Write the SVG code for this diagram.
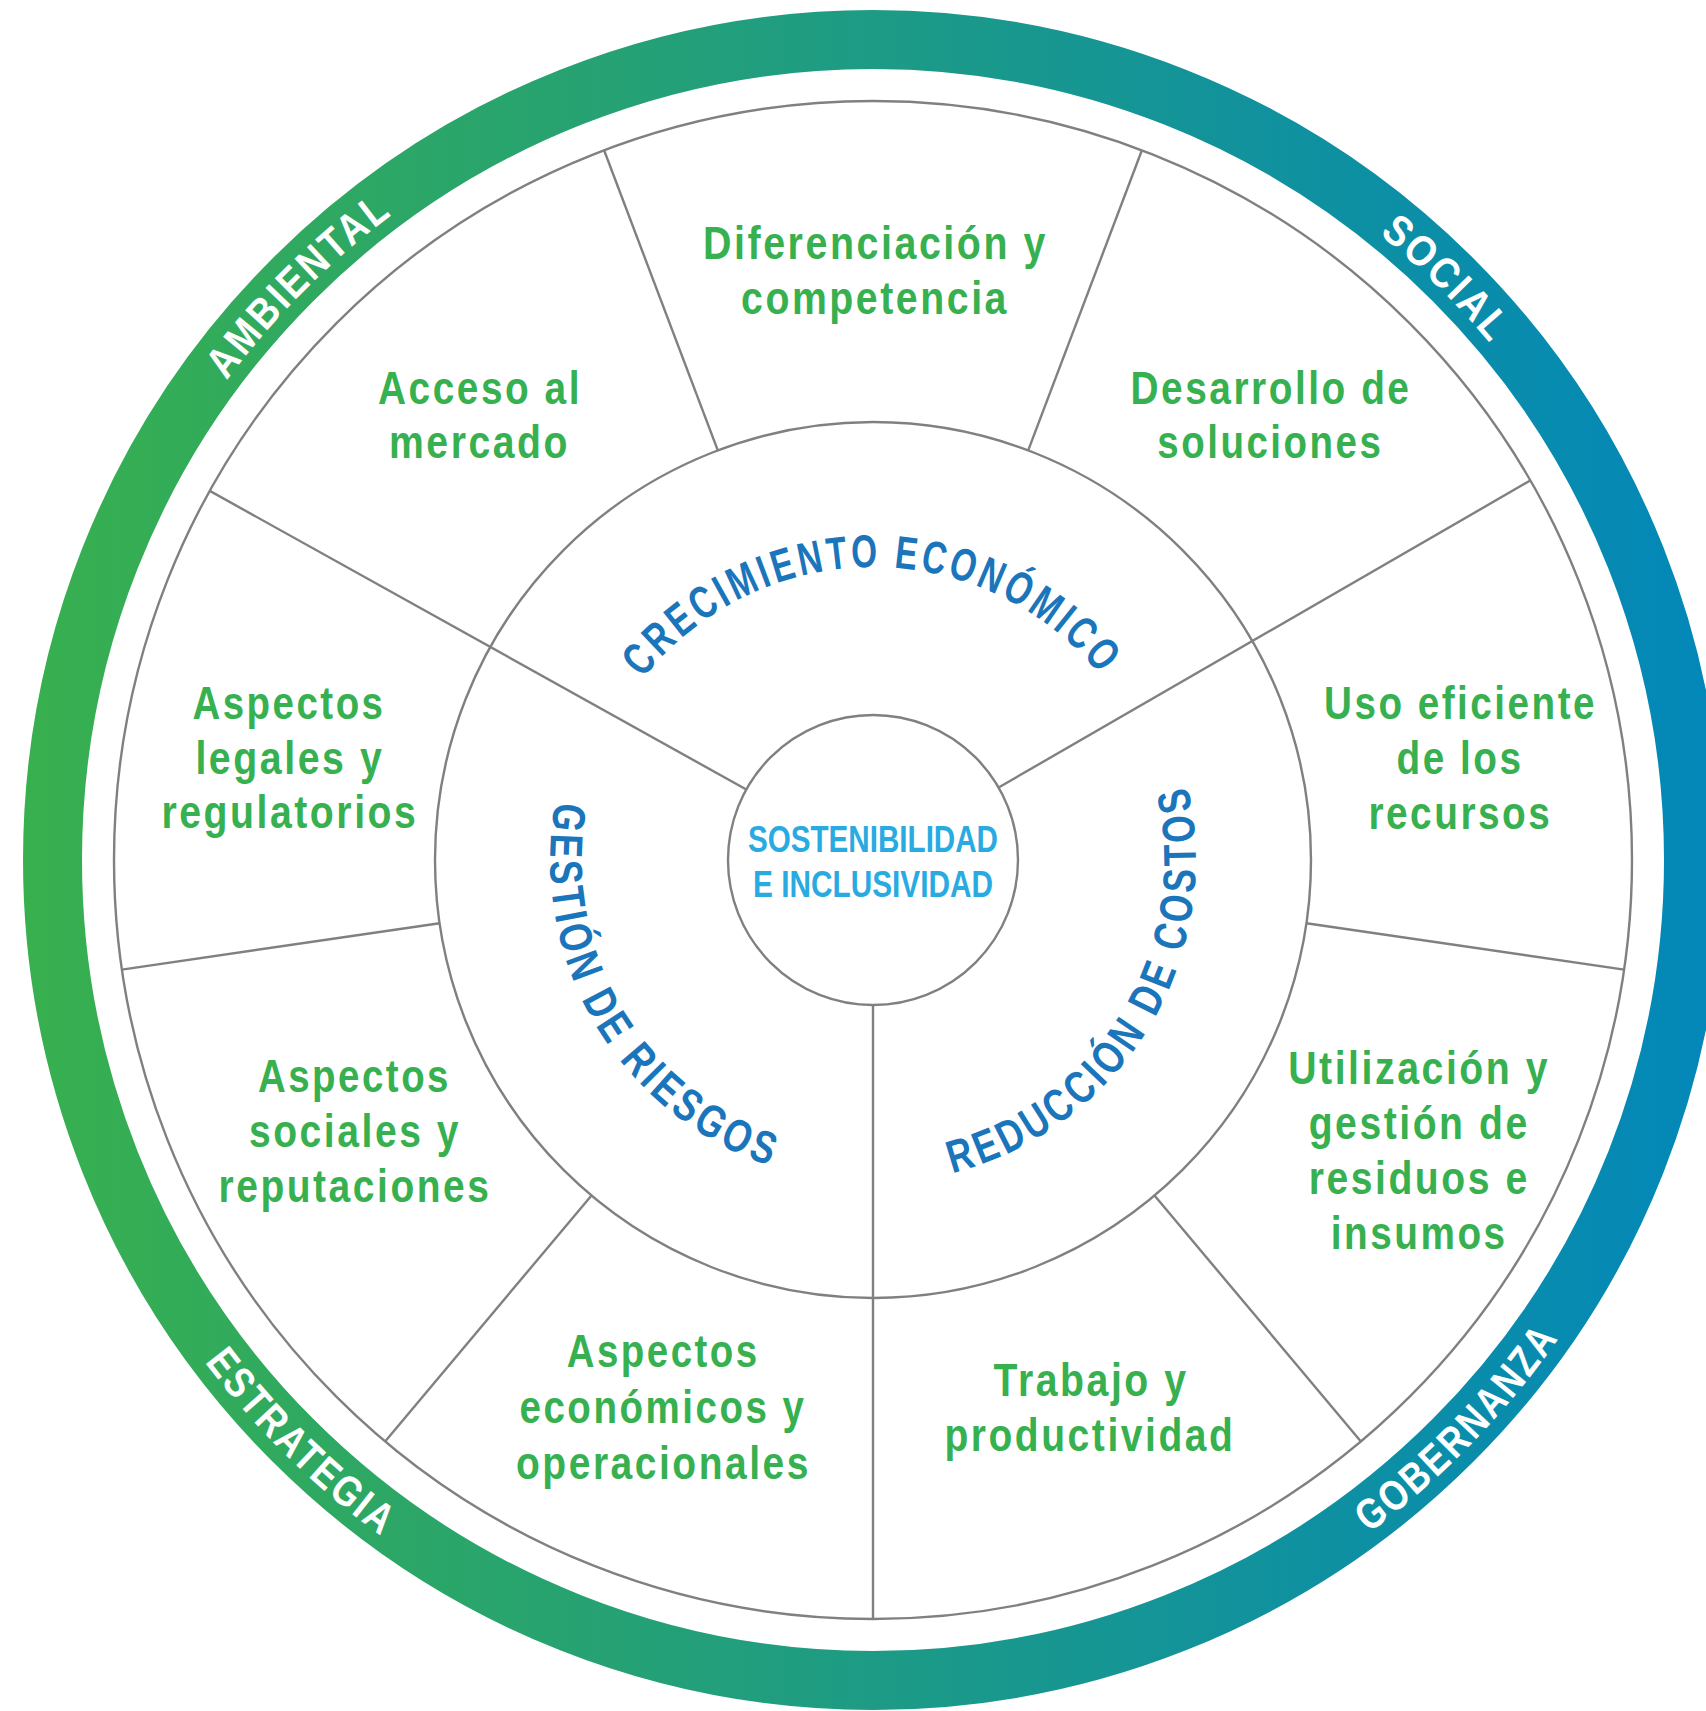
<svg xmlns="http://www.w3.org/2000/svg" width="1706" height="1711" viewBox="0 0 1706 1711">
<defs>
<linearGradient id="ringGrad" gradientUnits="userSpaceOnUse" x1="23" y1="0" x2="1723" y2="0">
<stop offset="0" stop-color="#38B04E"/>
<stop offset="0.5" stop-color="#1D9B85"/>
<stop offset="1" stop-color="#0287BA"/>
</linearGradient>
<path id="ringTop" d="M 68 860 A 805 805 0 0 1 1678 860"/>
<path id="ringBot" d="M 37 860 A 836 836 0 0 0 1709 860"/>
<path id="midTop" d="M 580 860 A 293 293 0 0 1 1166 860"/>
<path id="midBot" d="M 550 860 A 323 323 0 0 0 1196 860"/>
</defs>
<style>
.line{stroke:#808080;stroke-width:2.4;fill:none}
.lbl{font-family:"Liberation Sans",Arial,sans-serif;font-weight:bold;font-size:46px;letter-spacing:3px;fill:#37B050;text-anchor:middle}
.arc{font-family:"Liberation Sans",Arial,sans-serif;font-weight:bold;font-size:46px;letter-spacing:5px;fill:#1B75BB}
.ring{font-family:"Liberation Sans",Arial,sans-serif;font-weight:bold;font-size:43px;letter-spacing:3px;fill:#FFFFFF}
.core{font-family:"Liberation Sans",Arial,sans-serif;font-weight:bold;font-size:36px;fill:#29ABE2;text-anchor:middle}
</style>
<rect x="0" y="0" width="1706" height="1711" fill="#FFFFFF"/>

<g id="outer-ring">
<circle cx="873" cy="860" r="820.5" fill="none" stroke="url(#ringGrad)" stroke-width="59"/>
<text class="ring" transform="rotate(-45 873 860)"><textPath href="#ringTop" startOffset="50%" text-anchor="middle" textLength="237" lengthAdjust="spacingAndGlyphs">AMBIENTAL</textPath></text>
<text class="ring" transform="rotate(44.6 873 860)"><textPath href="#ringTop" startOffset="50%" text-anchor="middle" textLength="158" lengthAdjust="spacingAndGlyphs">SOCIAL</textPath></text>
<text class="ring" transform="rotate(-45.8 873 860)"><textPath href="#ringBot" startOffset="50%" text-anchor="middle" textLength="275" lengthAdjust="spacingAndGlyphs">GOBERNANZA</textPath></text>
<text class="ring" transform="rotate(44.5 873 860)"><textPath href="#ringBot" startOffset="50%" text-anchor="middle" textLength="251" lengthAdjust="spacingAndGlyphs">ESTRATEGIA</textPath></text>
</g>

<g id="wheel">
<circle cx="873" cy="860" r="759" fill="#FFFFFF" class="line"/>
<circle cx="873" cy="860" r="438" fill="none" class="line"/>
<circle cx="873" cy="860" r="145" fill="#FFFFFF" class="line"/>
</g>

<g id="connectors">
<line class="line" x1="717.8" y1="450.4" x2="604.1" y2="150.3"/>
<line class="line" x1="1028.2" y1="450.4" x2="1141.9" y2="150.3"/>
<line class="line" x1="998.6" y1="787.5" x2="1530.3" y2="480.5"/>
<line class="line" x1="746.3" y1="789.5" x2="209.8" y2="490.9"/>
<line class="line" x1="1306.4" y1="923.2" x2="1624.1" y2="969.6"/>
<line class="line" x1="439.6" y1="923.2" x2="121.9" y2="969.6"/>
<line class="line" x1="1154.5" y1="1195.5" x2="1360.9" y2="1441.4"/>
<line class="line" x1="591.5" y1="1195.5" x2="385.1" y2="1441.4"/>
<line class="line" x1="873" y1="1005" x2="873" y2="1619"/>
</g>

<g id="center">
<text class="core" x="873" y="852" textLength="250" lengthAdjust="spacingAndGlyphs">SOSTENIBILIDAD</text>
<text class="core" x="873" y="897" textLength="240" lengthAdjust="spacingAndGlyphs">E INCLUSIVIDAD</text>
</g>

<g id="crecimiento">
<text class="arc" transform="rotate(-0.2 873 860)"><textPath href="#midTop" startOffset="50%" text-anchor="middle" textLength="527" lengthAdjust="spacingAndGlyphs">CRECIMIENTO ECONÓMICO</textPath></text>
</g>
<g id="reduccion">
<text class="arc" transform="rotate(-59 873 860)"><textPath href="#midBot" startOffset="50%" text-anchor="middle" textLength="505" lengthAdjust="spacingAndGlyphs">REDUCCIÓN DE COSTOS</textPath></text>
</g>
<g id="gestion">
<text class="arc" transform="rotate(59.2 873 860)"><textPath href="#midBot" startOffset="50%" text-anchor="middle" textLength="464" lengthAdjust="spacingAndGlyphs">GESTIÓN DE RIESGOS</textPath></text>
</g>

<g id="diferenciacion">
<text class="lbl" x="875.5" y="259" textLength="345" lengthAdjust="spacingAndGlyphs">Diferenciación y</text>
<text class="lbl" x="875" y="314" textLength="268" lengthAdjust="spacingAndGlyphs">competencia</text>
</g>
<g id="acceso">
<text class="lbl" x="480" y="404" textLength="204" lengthAdjust="spacingAndGlyphs">Acceso al</text>
<text class="lbl" x="479.5" y="458" textLength="181" lengthAdjust="spacingAndGlyphs">mercado</text>
</g>
<g id="desarrollo">
<text class="lbl" x="1271" y="403.6" textLength="281" lengthAdjust="spacingAndGlyphs">Desarrollo de</text>
<text class="lbl" x="1270.3" y="458" textLength="226" lengthAdjust="spacingAndGlyphs">soluciones</text>
</g>
<g id="legales">
<text class="lbl" x="289" y="718.6" textLength="193" lengthAdjust="spacingAndGlyphs">Aspectos</text>
<text class="lbl" x="289.9" y="774" textLength="189" lengthAdjust="spacingAndGlyphs">legales y</text>
<text class="lbl" x="289.9" y="828" textLength="257" lengthAdjust="spacingAndGlyphs">regulatorios</text>
</g>
<g id="uso">
<text class="lbl" x="1460.5" y="718.6" textLength="273" lengthAdjust="spacingAndGlyphs">Uso eficiente</text>
<text class="lbl" x="1460.1" y="774" textLength="127" lengthAdjust="spacingAndGlyphs">de los</text>
<text class="lbl" x="1460.4" y="828.5" textLength="184" lengthAdjust="spacingAndGlyphs">recursos</text>
</g>
<g id="sociales">
<text class="lbl" x="354.5" y="1092" textLength="193" lengthAdjust="spacingAndGlyphs">Aspectos</text>
<text class="lbl" x="355" y="1147" textLength="212" lengthAdjust="spacingAndGlyphs">sociales y</text>
<text class="lbl" x="355" y="1201.5" textLength="273" lengthAdjust="spacingAndGlyphs">reputaciones</text>
</g>
<g id="utilizacion">
<text class="lbl" x="1419.2" y="1084" textLength="262" lengthAdjust="spacingAndGlyphs">Utilización y</text>
<text class="lbl" x="1419.2" y="1139.3" textLength="221" lengthAdjust="spacingAndGlyphs">gestión de</text>
<text class="lbl" x="1419.2" y="1194.2" textLength="221" lengthAdjust="spacingAndGlyphs">residuos e</text>
<text class="lbl" x="1419.2" y="1249" textLength="177" lengthAdjust="spacingAndGlyphs">insumos</text>
</g>
<g id="economicos">
<text class="lbl" x="663.2" y="1367" textLength="193" lengthAdjust="spacingAndGlyphs">Aspectos</text>
<text class="lbl" x="663" y="1423" textLength="287" lengthAdjust="spacingAndGlyphs">económicos y</text>
<text class="lbl" x="663.5" y="1478.7" textLength="295" lengthAdjust="spacingAndGlyphs">operacionales</text>
</g>
<g id="trabajo">
<text class="lbl" x="1091.1" y="1396.4" textLength="195" lengthAdjust="spacingAndGlyphs">Trabajo y</text>
<text class="lbl" x="1089.9" y="1451" textLength="291" lengthAdjust="spacingAndGlyphs">productividad</text>
</g>
</svg>
